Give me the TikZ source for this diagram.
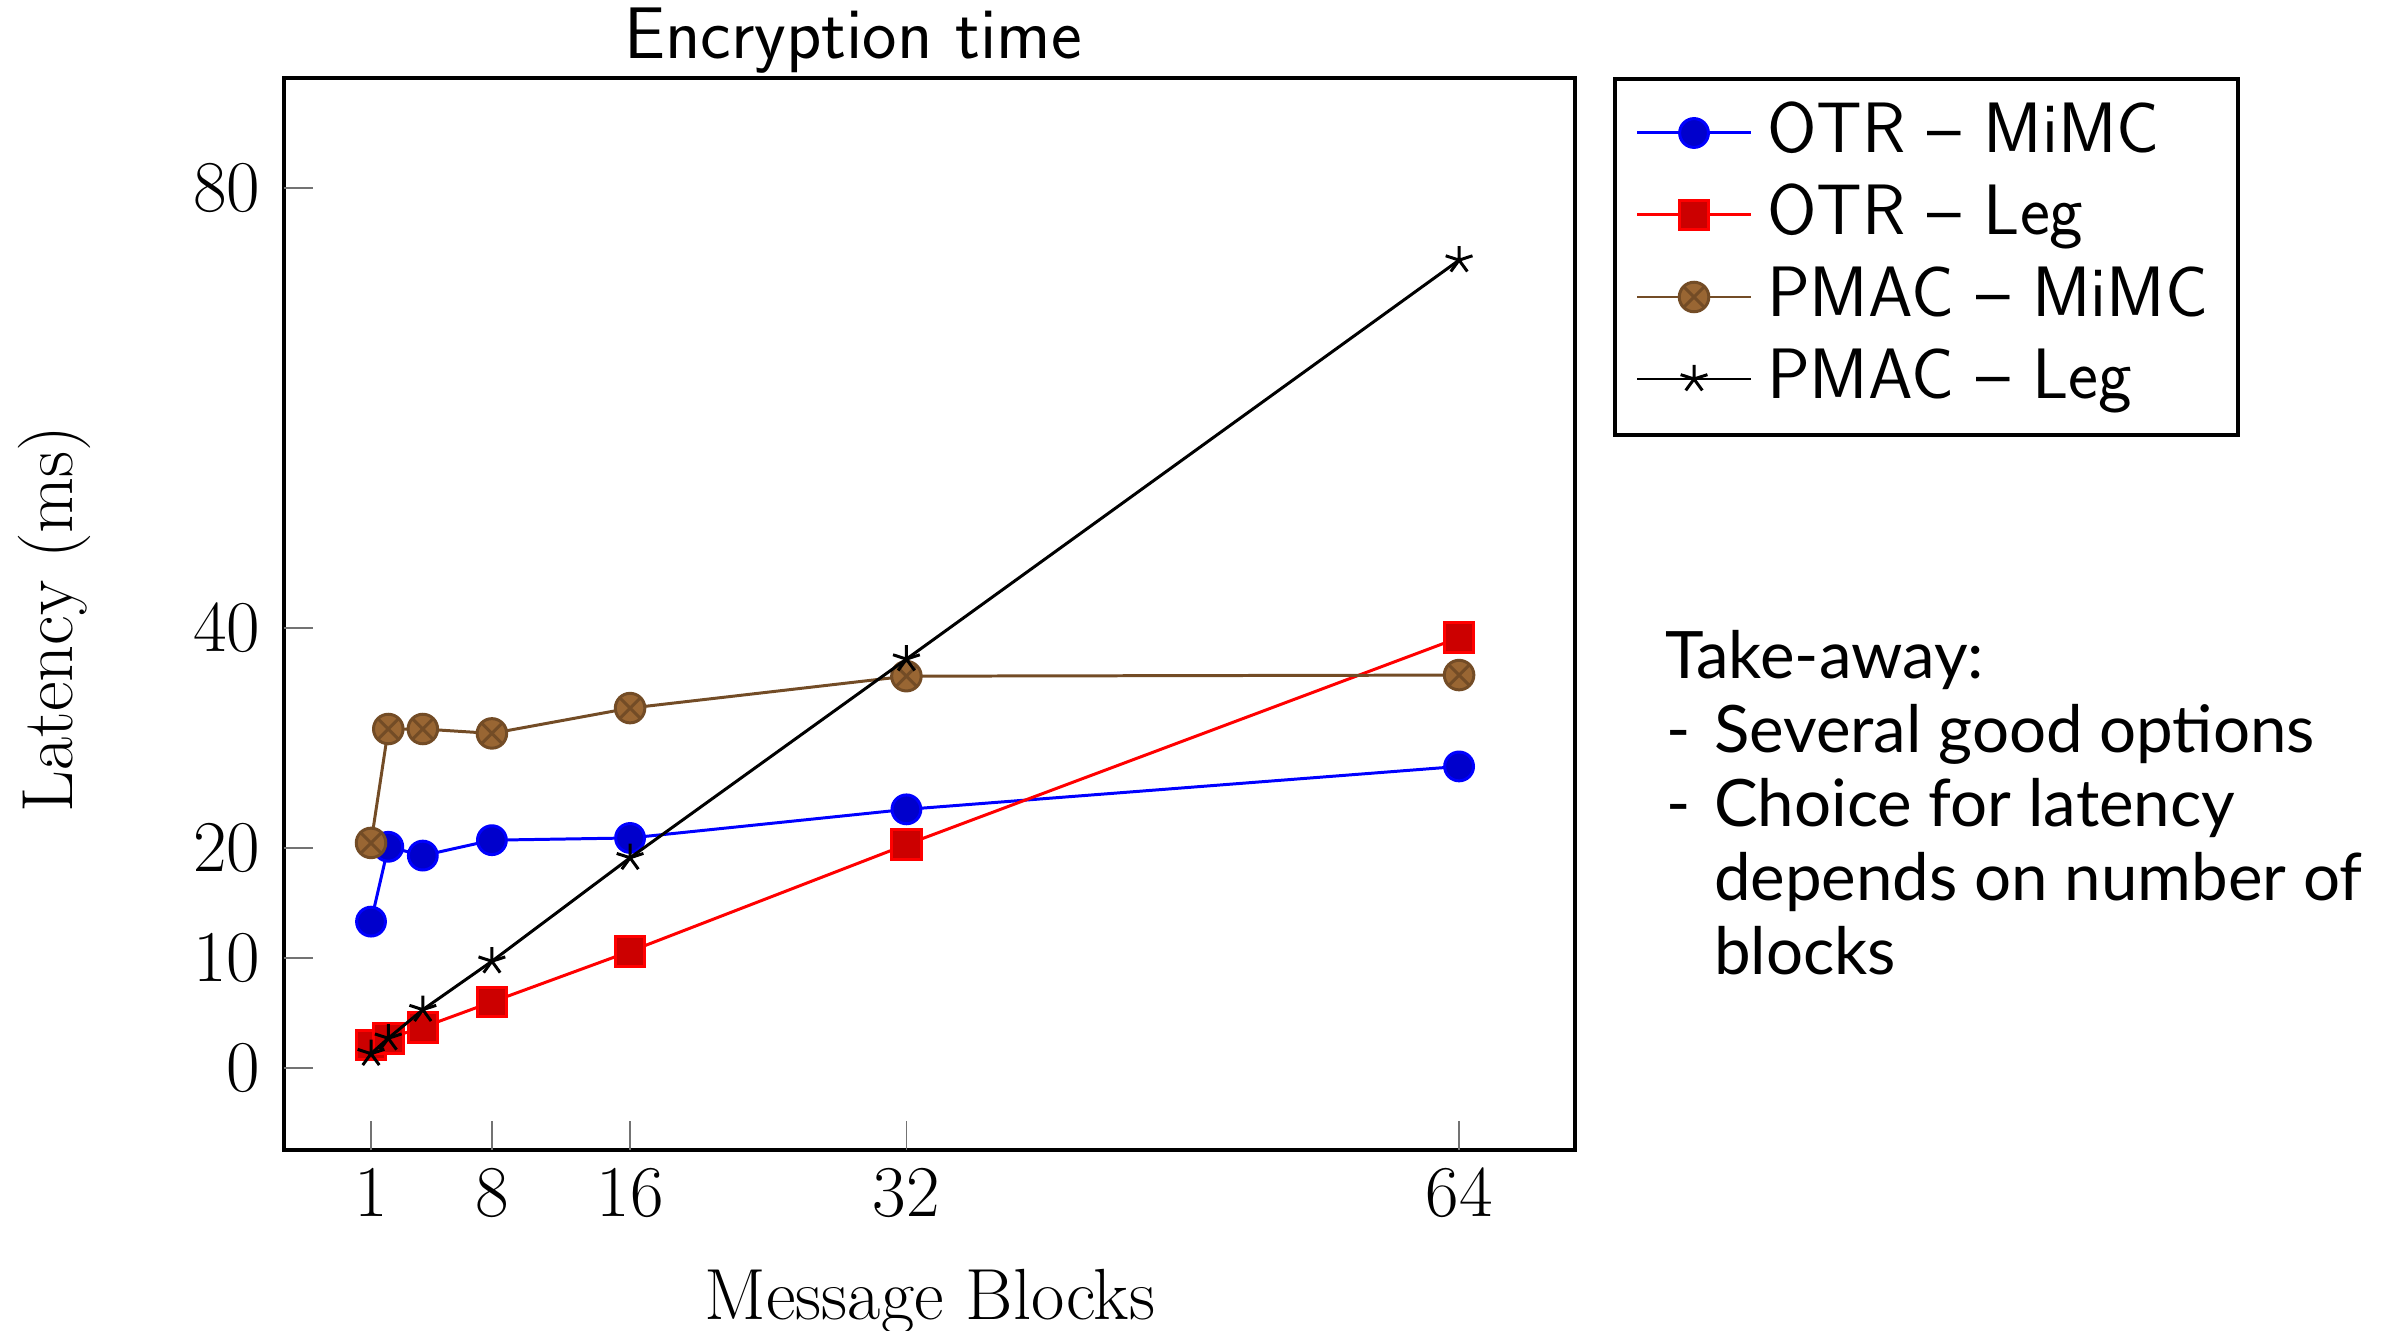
\documentclass[tikz,border=0pt]{standalone}
\usepackage{fontspec}
\newfontfamily\notefont{Lato}
\usetikzlibrary{plotmarks}

\tikzset{
  lbl/.style={inner sep=0pt, outer sep=0pt, font=\fontsize{20.6pt}{24pt}\selectfont},
  ticklbl/.style={inner sep=0pt, outer sep=0pt, font=\fontsize{21.2pt}{24pt}\selectfont},
  sanslbl/.style={inner sep=0pt, outer sep=0pt, font=\fontsize{20.3pt}{24pt}\selectfont\sffamily},
  titlelbl/.style={inner sep=0pt, outer sep=0pt, font=\fontsize{20.8pt}{24pt}\selectfont\sffamily},
  notetext/.style={inner sep=0pt, outer sep=0pt, font=\fontsize{18.6pt}{22pt}\selectfont\notefont},
  frame/.style={line width=0.9pt, black},
  tick/.style={line width=0.45pt, black!55},
  serA/.style={blue, line width=0.85pt, mark=*, mark size=4.1pt,
    mark options={fill=blue!80!black, draw=blue}},
  serB/.style={red, line width=0.85pt, mark=square*, mark size=4.2pt,
    mark options={fill=red!80!black, draw=red}},
  serC/.style={brown!60!black, line width=0.85pt, mark=otimes*, mark size=4.2pt,
    mark options={fill=brown!80!black, draw=brown!60!black}},
  serD/.style={black, line width=0.85pt, mark=star, mark size=4.0pt,
    mark options={draw=black}},
}

\begin{document}
\begin{tikzpicture}[x=0.01cm, y=-0.01cm]
\useasboundingbox (0,0) rectangle (2383,1331);

% title
\node[titlelbl, anchor=base] (title) at (853,59) {Encryption time};

% axis frame
\draw[frame] (284,78) rectangle (1575,1150);

% y ticks
\foreach \py in {1068,958,848,628,188} {
  \draw[tick] (284,\py) -- (313,\py);
}

% data area: x in message blocks, y in milliseconds
\begin{scope}[shift={(353.74,1068)}, x=0.1726cm, y=0.11cm]
  % x ticks and labels
  \foreach \v in {1,8,16,32,64} {
    \draw[tick] (\v,-7.45) -- (\v,-4.82);
    \node[ticklbl, anchor=base] (xt\v) at (\v,-13.45) {$\v$};
  }

  % series
  \draw[serA] plot coordinates {(1,13.3) (2,20.1) (4,19.3) (8,20.7) (16,20.9) (32,23.5) (64,27.4)};
  \draw[serB] plot coordinates {(1,2.1) (2,2.7) (4,3.7) (8,6.0) (16,10.6) (32,20.3) (64,39.1)};
  \draw[serC] plot coordinates {(1,20.45) (2,30.8) (4,30.8) (8,30.4) (16,32.7) (32,35.6) (64,35.7)};
  \draw[serD] plot coordinates {(1,1.3) (2,2.7) (4,5.3) (8,9.7) (16,19.1) (32,37.15) (64,73.4)};
\end{scope}

% y tick labels
\node[ticklbl, anchor=east] (y0)  at (260,1068) {$0$};
\node[ticklbl, anchor=east] (y10) at (260,958)  {$10$};
\node[ticklbl, anchor=east] (y20) at (260,848)  {$20$};
\node[ticklbl, anchor=east] (y40) at (260,628)  {$40$};
\node[ticklbl, anchor=east] (y80) at (260,188)  {$80$};

% axis labels
\node[lbl, anchor=base] (xlab) at (930,1319) {Message Blocks};
\node[lbl, anchor=base, rotate=90] (ylab) at (72,619) {Latency (ms)};

% legend
\draw[frame] (1615,79) rectangle (2238,435);
\draw[serA] (1637,133) -- (1751,133);
\path[serA] plot coordinates {(1694,133)};
\draw[serB] (1637,215) -- (1751,215);
\path[serB] plot coordinates {(1694,215)};
\draw[serC] (1637,297) -- (1751,297);
\path[serC] plot coordinates {(1694,297)};
\draw[serD] (1637,379) -- (1751,379);
\path[serD] plot coordinates {(1694,379)};
\node[sanslbl, anchor=base west] (lg1) at (1767,153) {OTR \textendash{} MiMC};
\node[sanslbl, anchor=base west] (lg2) at (1767,235) {OTR \textendash{} Leg};
\node[sanslbl, anchor=base west] (lg3) at (1767,317) {PMAC \textendash{} MiMC};
\node[sanslbl, anchor=base west] (lg4) at (1767,399) {PMAC \textendash{} Leg};

% take-away note
\node[notetext, anchor=base west] (tk)  at (1665,678) {Take-away:};
\node[notetext, anchor=base west] (d1)  at (1666,752) {-};
\node[notetext, anchor=base west] (t1)  at (1714,752) {Several good options};
\node[notetext, anchor=base west] (d2)  at (1666,826) {-};
\node[notetext, anchor=base west] (t2)  at (1714,826) {Choice for latency};
\node[notetext, anchor=base west] (t3)  at (1714,900) {depends on number of};
\node[notetext, anchor=base west] (t4)  at (1714,974) {blocks};
\end{tikzpicture}
\end{document}
